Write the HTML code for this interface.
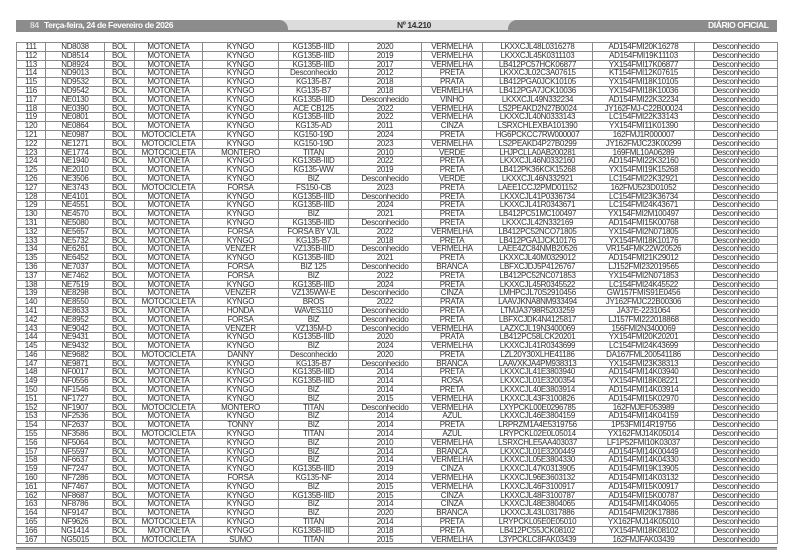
<!DOCTYPE html>
<html><head><meta charset="utf-8"><style>
body{margin:0;width:793px;height:560px;background:#fff;position:relative;overflow:hidden;font-family:"Liberation Sans",Arial,sans-serif;}
.hb{position:absolute;top:20px;left:16px;width:761px;height:10px;background:#dcdcdc;}
.hl{position:absolute;top:20px;left:16px;width:272px;height:11px;background:#8c8c8c;border-top-right-radius:9px;}
.hr{position:absolute;top:20px;left:508px;width:269px;height:11px;background:#8c8c8c;border-top-left-radius:9px;}
.hline{position:absolute;top:30px;left:16px;width:761px;height:2px;background:#8a8a8a;}
.ht{position:absolute;top:21px;font-size:8.5px;line-height:9px;font-weight:bold;letter-spacing:-0.4px;}
table{position:absolute;top:42px;left:16px;width:761px;border-collapse:collapse;table-layout:fixed;}
td{border:1px solid #8a8a8a;height:7.8px;padding:0;font-size:8px;line-height:7.8px;text-align:center;color:#333;white-space:nowrap;overflow:hidden;letter-spacing:-0.3px;}
.bl{position:absolute;top:547px;left:16px;width:761px;height:1px;background:#777;border-bottom:2px solid #aaa;}
</style></head><body>
<div class="hb"></div><div class="hl"></div><div class="hr"></div><div class="hline"></div>
<div class="ht" style="left:30px;color:#ddd">84</div>
<div class="ht" style="left:44px;color:#fff">Terça-feira, 24 de Fevereiro de 2026</div>
<div class="ht" style="left:397px;color:#333">Nº 14.210</div>
<div class="ht" style="left:708px;color:#fff">DIÁRIO OFICIAL</div>
<table>
<colgroup><col style="width:29px"><col style="width:59px"><col style="width:30px"><col style="width:68px"><col style="width:76px"><col style="width:70px"><col style="width:73px"><col style="width:61px"><col style="width:110px"><col style="width:102px"><col style="width:83px"></colgroup>
<tr><td>111</td><td>ND8038</td><td>BOL</td><td>MOTONETA</td><td>KYNGO</td><td>KG135B-IIID</td><td>2020</td><td>VERMELHA</td><td>LKXXCJL48L0316278</td><td>AD154FMI20K16278</td><td>Desconhecido</td></tr>
<tr><td>112</td><td>ND8514</td><td>BOL</td><td>MOTONETA</td><td>KYNGO</td><td>KG135B-IIID</td><td>2019</td><td>VERMELHA</td><td>LKXXCJL45K0311103</td><td>AD154FMI19K11103</td><td>Desconhecido</td></tr>
<tr><td>113</td><td>ND8924</td><td>BOL</td><td>MOTONETA</td><td>KYNGO</td><td>KG135B-IIID</td><td>2017</td><td>VERMELHA</td><td>LB412PC57HCK06877</td><td>YX154FMI17K06877</td><td>Desconhecido</td></tr>
<tr><td>114</td><td>ND9013</td><td>BOL</td><td>MOTONETA</td><td>KYNGO</td><td>Desconhecido</td><td>2012</td><td>PRETA</td><td>LKXXCJL02C3A07615</td><td>KT154FMI12K07615</td><td>Desconhecido</td></tr>
<tr><td>115</td><td>ND9532</td><td>BOL</td><td>MOTONETA</td><td>KYNGO</td><td>KG135-B7</td><td>2018</td><td>PRATA</td><td>LB412PGA0JCK10105</td><td>YX154FMI18K10105</td><td>Desconhecido</td></tr>
<tr><td>116</td><td>ND9542</td><td>BOL</td><td>MOTONETA</td><td>KYNGO</td><td>KG135-B7</td><td>2018</td><td>VERMELHA</td><td>LB412PGA7JCK10036</td><td>YX154FMI18K10036</td><td>Desconhecido</td></tr>
<tr><td>117</td><td>NE0130</td><td>BOL</td><td>MOTONETA</td><td>KYNGO</td><td>KG135B-IIID</td><td>Desconhecido</td><td>VINHO</td><td>LKXXCJL49N332234</td><td>AD154FMI22K32234</td><td>Desconhecido</td></tr>
<tr><td>118</td><td>NE0390</td><td>BOL</td><td>MOTONETA</td><td>KYNGO</td><td>ACE CB125</td><td>2022</td><td>VERMELHA</td><td>LS2PEAKD2N27B0024</td><td>JY162FMJ-C22B00024</td><td>Desconhecido</td></tr>
<tr><td>119</td><td>NE0801</td><td>BOL</td><td>MOTONETA</td><td>KYNGO</td><td>KG135B-IIID</td><td>2022</td><td>VERMELHA</td><td>LKXXCJL40N0333143</td><td>LC154FMI22K33143</td><td>Desconhecido</td></tr>
<tr><td>120</td><td>NE0864</td><td>BOL</td><td>MOTONETA</td><td>KYNGO</td><td>KG135-AD</td><td>2011</td><td>CINZA</td><td>LSRXCHLEXBA101390</td><td>YX154FMI11K01390</td><td>Desconhecido</td></tr>
<tr><td>121</td><td>NE0987</td><td>BOL</td><td>MOTOCICLETA</td><td>KYNGO</td><td>KG150-19D</td><td>2024</td><td>PRETA</td><td>HG6PCKCC7RW000007</td><td>162FMJ1R000007</td><td>Desconhecido</td></tr>
<tr><td>122</td><td>NE1271</td><td>BOL</td><td>MOTOCICLETA</td><td>KYNGO</td><td>KG150-19D</td><td>2023</td><td>VERMELHA</td><td>LS2PEAKD4P27B0299</td><td>JY162FMJC23K00299</td><td>Desconhecido</td></tr>
<tr><td>123</td><td>NE1774</td><td>BOL</td><td>MOTOCICLETA</td><td>MONTERO</td><td>TITAN</td><td>2010</td><td>VERDE</td><td>LHJPCLLA0AB200281</td><td>169FML10A06289</td><td>Desconhecido</td></tr>
<tr><td>124</td><td>NE1940</td><td>BOL</td><td>MOTONETA</td><td>KYNGO</td><td>KG135B-IIID</td><td>2022</td><td>PRETA</td><td>LKXXCJL46N0332160</td><td>AD154FMI22K32160</td><td>Desconhecido</td></tr>
<tr><td>125</td><td>NE2010</td><td>BOL</td><td>MOTONETA</td><td>KYNGO</td><td>KG135-WW</td><td>2019</td><td>PRETA</td><td>LB412PK36KCK15268</td><td>YX154FMI19K15268</td><td>Desconhecido</td></tr>
<tr><td>126</td><td>NE3506</td><td>BOL</td><td>MOTONETA</td><td>KYNGO</td><td>BIZ</td><td>Desconhecido</td><td>VERDE</td><td>LKXXCJL46N332921</td><td>LC154FMI22K32921</td><td>Desconhecido</td></tr>
<tr><td>127</td><td>NE3743</td><td>BOL</td><td>MOTOCICLETA</td><td>FORSA</td><td>FS150-CB</td><td>2023</td><td>PRETA</td><td>LAEE1CCJ2PMD01152</td><td>162FMJ523D01052</td><td>Desconhecido</td></tr>
<tr><td>128</td><td>NE4101</td><td>BOL</td><td>MOTONETA</td><td>KYNGO</td><td>KG135B-IIID</td><td>Desconhecido</td><td>PRETA</td><td>LKXXCJL41P0336734</td><td>LC154FMI23K36734</td><td>Desconhecido</td></tr>
<tr><td>129</td><td>NE4551</td><td>BOL</td><td>MOTONETA</td><td>KYNGO</td><td>KG135B-IIID</td><td>2024</td><td>PRETA</td><td>LKXXCJL41R0343671</td><td>LC154FMI24K43671</td><td>Desconhecido</td></tr>
<tr><td>130</td><td>NE4570</td><td>BOL</td><td>MOTONETA</td><td>KYNGO</td><td>BIZ</td><td>2021</td><td>PRETA</td><td>LB412PC51MC100497</td><td>YX154FMI2M100497</td><td>Desconhecido</td></tr>
<tr><td>131</td><td>NE5080</td><td>BOL</td><td>MOTONETA</td><td>KYNGO</td><td>KG135B-IIID</td><td>Desconhecido</td><td>PRETA</td><td>LKXXCJL42N332169</td><td>AD154FMI15K00768</td><td>Desconhecido</td></tr>
<tr><td>132</td><td>NE5657</td><td>BOL</td><td>MOTONETA</td><td>FORSA</td><td>FORSA BY VJL</td><td>2022</td><td>VERMELHA</td><td>LB412PC52NCO71805</td><td>YX154FMI2N071805</td><td>Desconhecido</td></tr>
<tr><td>133</td><td>NE5732</td><td>BOL</td><td>MOTONETA</td><td>KYNGO</td><td>KG135-B7</td><td>2018</td><td>PRETA</td><td>LB412PGA1JCK10176</td><td>YX154FMI18K10176</td><td>Desconhecido</td></tr>
<tr><td>134</td><td>NE6261</td><td>BOL</td><td>MOTONETA</td><td>VENZER</td><td>VZ135B-IIID</td><td>Desconhecido</td><td>VERMELHA</td><td>LAEE4ZC84NMB20526</td><td>VR154FMK22W20526</td><td>Desconhecido</td></tr>
<tr><td>135</td><td>NE6452</td><td>BOL</td><td>MOTONETA</td><td>KYNGO</td><td>KG135B-IIID</td><td>2021</td><td>PRETA</td><td>LKXXCJL40M0329012</td><td>AD154FMI21K29012</td><td>Desconhecido</td></tr>
<tr><td>136</td><td>NE7037</td><td>BOL</td><td>MOTONETA</td><td>FORSA</td><td>BIZ 125</td><td>Desconhecido</td><td>BRANCA</td><td>LBFXCJDJ5P4126767</td><td>LJ152FMI232019565</td><td>Desconhecido</td></tr>
<tr><td>137</td><td>NE7462</td><td>BOL</td><td>MOTONETA</td><td>FORSA</td><td>BIZ</td><td>2022</td><td>PRETA</td><td>LB412PC52NC071853</td><td>YX154FMI2N071853</td><td>Desconhecido</td></tr>
<tr><td>138</td><td>NE7519</td><td>BOL</td><td>MOTONETA</td><td>KYNGO</td><td>KG135B-IIID</td><td>2024</td><td>PRETA</td><td>LKXXCJL45R0345522</td><td>LC154FMI24K45522</td><td>Desconhecido</td></tr>
<tr><td>139</td><td>NE8298</td><td>BOL</td><td>MOTONETA</td><td>VENZER</td><td>VZ135WW-E</td><td>Desconhecido</td><td>CINZA</td><td>LMHPCJL70S2910456</td><td>GW157FMIS91E0456</td><td>Desconhecido</td></tr>
<tr><td>140</td><td>NE8550</td><td>BOL</td><td>MOTOCICLETA</td><td>KYNGO</td><td>BROS</td><td>2022</td><td>PRATA</td><td>LAAVJKNA8NM933494</td><td>JY162FMJC22B00306</td><td>Desconhecido</td></tr>
<tr><td>141</td><td>NE8633</td><td>BOL</td><td>MOTONETA</td><td>HONDA</td><td>WAVES110</td><td>Desconhecido</td><td>PRETA</td><td>LTMJA3798R5203259</td><td>JA37E-2231064</td><td>Desconhecido</td></tr>
<tr><td>142</td><td>NE8952</td><td>BOL</td><td>MOTONETA</td><td>FORSA</td><td>BIZ</td><td>Desconhecido</td><td>PRETA</td><td>LBFXCJDK4N4125817</td><td>LJ157FMI222018868</td><td>Desconhecido</td></tr>
<tr><td>143</td><td>NE9042</td><td>BOL</td><td>MOTONETA</td><td>VENZER</td><td>VZ135M-D</td><td>Desconhecido</td><td>VERMELHA</td><td>LAZXCJL19N3400069</td><td>156FMI2N3400069</td><td>Desconhecido</td></tr>
<tr><td>144</td><td>NE9431</td><td>BOL</td><td>MOTONETA</td><td>KYNGO</td><td>KG135B-IIID</td><td>2020</td><td>PRATA</td><td>LB412PC58LCK20201</td><td>YX154FMI20K20201</td><td>Desconhecido</td></tr>
<tr><td>145</td><td>NE9432</td><td>BOL</td><td>MOTONETA</td><td>KYNGO</td><td>BIZ</td><td>2024</td><td>VERMELHA</td><td>LKXXCJL41R0343699</td><td>LC154FMI24K43699</td><td>Desconhecido</td></tr>
<tr><td>146</td><td>NE9682</td><td>BOL</td><td>MOTOCICLETA</td><td>DANNY</td><td>Desconhecido</td><td>2020</td><td>PRETA</td><td>LZL20Y30XLHE41186</td><td>DA167FML200541186</td><td>Desconhecido</td></tr>
<tr><td>147</td><td>NE9871</td><td>BOL</td><td>MOTONETA</td><td>KYNGO</td><td>KG135-B7</td><td>Desconhecido</td><td>BRANCA</td><td>LAAVXKJA4PM938313</td><td>YX154FMI23K38313</td><td>Desconhecido</td></tr>
<tr><td>148</td><td>NF0017</td><td>BOL</td><td>MOTONETA</td><td>KYNGO</td><td>KG135B-IIID</td><td>2014</td><td>PRETA</td><td>LKXXCJL41E3803940</td><td>AD154FMI14K03940</td><td>Desconhecido</td></tr>
<tr><td>149</td><td>NF0556</td><td>BOL</td><td>MOTONETA</td><td>KYNGO</td><td>KG135B-IIID</td><td>2014</td><td>ROSA</td><td>LKXXCJL01E3200354</td><td>YX154FMI18K08221</td><td>Desconhecido</td></tr>
<tr><td>150</td><td>NF1546</td><td>BOL</td><td>MOTONETA</td><td>KYNGO</td><td>BIZ</td><td>2014</td><td>PRETA</td><td>LKXXCJL40E3803914</td><td>AD154FMI14K03914</td><td>Desconhecido</td></tr>
<tr><td>151</td><td>NF1727</td><td>BOL</td><td>MOTONETA</td><td>KYNGO</td><td>BIZ</td><td>2015</td><td>VERMELHA</td><td>LKXXCJL43F3100826</td><td>AD154FMI15K02970</td><td>Desconhecido</td></tr>
<tr><td>152</td><td>NF1907</td><td>BOL</td><td>MOTOCICLETA</td><td>MONTERO</td><td>TITAN</td><td>Desconhecido</td><td>VERMELHA</td><td>LXYPCKL00E0296785</td><td>162FMJEF053989</td><td>Desconhecido</td></tr>
<tr><td>153</td><td>NF2536</td><td>BOL</td><td>MOTONETA</td><td>KYNGO</td><td>BIZ</td><td>2014</td><td>AZUL</td><td>LKXXCJL46E3804159</td><td>AD154FMI14K04159</td><td>Desconhecido</td></tr>
<tr><td>154</td><td>NF2637</td><td>BOL</td><td>MOTONETA</td><td>TONNY</td><td>BIZ</td><td>2014</td><td>PRETA</td><td>LRPRZM1A4E5319756</td><td>1P53FMI14R19756</td><td>Desconhecido</td></tr>
<tr><td>155</td><td>NF3586</td><td>BOL</td><td>MOTOCICLETA</td><td>KYNGO</td><td>TITAN</td><td>2014</td><td>AZUL</td><td>LRYPCKL02E0L05014</td><td>YX162FMJ14K05014</td><td>Desconhecido</td></tr>
<tr><td>156</td><td>NF5064</td><td>BOL</td><td>MOTONETA</td><td>KYNGO</td><td>BIZ</td><td>2010</td><td>VERMELHA</td><td>LSRXCHLE5AA403037</td><td>LF1P52FMI10K03037</td><td>Desconhecido</td></tr>
<tr><td>157</td><td>NF5597</td><td>BOL</td><td>MOTONETA</td><td>KYNGO</td><td>BIZ</td><td>2014</td><td>BRANCA</td><td>LKXXCJL01E3200449</td><td>AD154FMI14K00449</td><td>Desconhecido</td></tr>
<tr><td>158</td><td>NF6637</td><td>BOL</td><td>MOTONETA</td><td>KYNGO</td><td>BIZ</td><td>2014</td><td>VERMELHA</td><td>LKXXCJL05E3804330</td><td>AD154FMI14K04330</td><td>Desconhecido</td></tr>
<tr><td>159</td><td>NF7247</td><td>BOL</td><td>MOTONETA</td><td>KYNGO</td><td>KG135B-IIID</td><td>2019</td><td>CINZA</td><td>LKXXCJL47K0313905</td><td>AD154FMI19K13905</td><td>Desconhecido</td></tr>
<tr><td>160</td><td>NF7286</td><td>BOL</td><td>MOTONETA</td><td>FORSA</td><td>KG135-NF</td><td>2014</td><td>VERMELHA</td><td>LKXXCJL96E3603132</td><td>AD154FMI14K03132</td><td>Desconhecido</td></tr>
<tr><td>161</td><td>NF7467</td><td>BOL</td><td>MOTONETA</td><td>KYNGO</td><td>BIZ</td><td>2015</td><td>VERMELHA</td><td>LKXXCJL46F3100917</td><td>AD154FMI15K00917</td><td>Desconhecido</td></tr>
<tr><td>162</td><td>NF8687</td><td>BOL</td><td>MOTONETA</td><td>KYNGO</td><td>KG135B-IIID</td><td>2015</td><td>CINZA</td><td>LKXXCJL48F3100787</td><td>AD154FMI15K00787</td><td>Desconhecido</td></tr>
<tr><td>163</td><td>NF8786</td><td>BOL</td><td>MOTONETA</td><td>KYNGO</td><td>BIZ</td><td>2014</td><td>CINZA</td><td>LKXXCJL48E3804065</td><td>AD154FMI14K04065</td><td>Desconhecido</td></tr>
<tr><td>164</td><td>NF9147</td><td>BOL</td><td>MOTONETA</td><td>KYNGO</td><td>BIZ</td><td>2020</td><td>BRANCA</td><td>LKXXCJL43L0317886</td><td>AD154FMI20K17886</td><td>Desconhecido</td></tr>
<tr><td>165</td><td>NF9626</td><td>BOL</td><td>MOTOCICLETA</td><td>KYNGO</td><td>TITAN</td><td>2014</td><td>PRETA</td><td>LRYPCKL05E0E05010</td><td>YX162FMJ14K05010</td><td>Desconhecido</td></tr>
<tr><td>166</td><td>NG1414</td><td>BOL</td><td>MOTONETA</td><td>KYNGO</td><td>KG135B-IIID</td><td>2018</td><td>PRETA</td><td>LB412PC55JCK08102</td><td>YX154FMI18K08102</td><td>Desconhecido</td></tr>
<tr><td>167</td><td>NG5015</td><td>BOL</td><td>MOTOCICLETA</td><td>SUMO</td><td>TITAN</td><td>2015</td><td>VERMELHA</td><td>L3YPCKLC8FAK03439</td><td>162FMJFAK03439</td><td>Desconhecido</td></tr>
</table>
<div class="bl"></div>
</body></html>
